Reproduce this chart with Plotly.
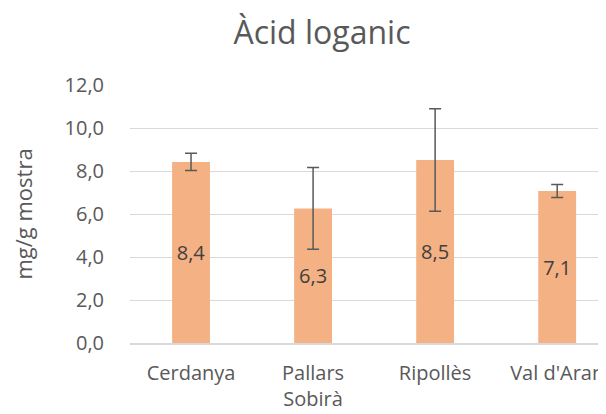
import plotly.graph_objects as go

# Data
regions = ["Cerdanya", "Pallars<br>Sobirà", "Ripollès", "Val d'Aran"]
means = [8.42, 6.26, 8.51, 7.07]
errors = [0.40, 1.90, 2.38, 0.30]

BAR_COLOR = "#F4B183"
TEXT_COLOR = "#595959"
GRID_COLOR = "#D9D9D9"
FONT = "Open Sans, Noto Sans, sans-serif"

# the page body adds an 8px offset, so the figure is 8px smaller
fig = go.Figure()

fig.add_trace(go.Bar(
    x=regions,
    y=means,
    marker=dict(color=BAR_COLOR, line=dict(width=0)),
    error_y=dict(type="data", array=errors, visible=True,
                 color="#595959", thickness=1.5, width=6),
    texttemplate="%{y:.1f}",
    textposition="inside",
    insidetextanchor="middle",
    textangle=0,
    textfont=dict(family=FONT, size=20, color="#404040"),
    hoverinfo="skip",
))

fig.update_layout(
    width=598,
    height=406,
    separators=",.",
    paper_bgcolor="white",
    plot_bgcolor="white",
    showlegend=False,
    bargap=0.69,
    margin=dict(t=77, r=0, b=71, l=122),
    title=dict(text="Àcid loganic", x=0.525, xanchor="center", y=0.94, yanchor="middle",
               font=dict(family=FONT, size=32, color=TEXT_COLOR)),
    font=dict(family=FONT, color=TEXT_COLOR),
    xaxis=dict(
        range=[-0.5, 3.4],
        showline=True, linecolor=GRID_COLOR, linewidth=1.5,
        showgrid=False,
        ticks="outside", ticklen=11, tickcolor="rgba(0,0,0,0)",
        tickfont=dict(family=FONT, size=20, color=TEXT_COLOR),
        automargin=False,
    ),
    yaxis=dict(
        range=[0, 12],
        dtick=2,
        tickformat=".1f",
        showgrid=True, gridcolor=GRID_COLOR, gridwidth=1.2,
        zeroline=False,
        ticks="outside", ticklen=21, tickcolor="rgba(0,0,0,0)",
        tickfont=dict(family=FONT, size=20, color=TEXT_COLOR),
        title=dict(text="mg/g mostra", standoff=26,
                   font=dict(family=FONT, size=22, color=TEXT_COLOR)),
        automargin=False,
    ),
)

fig.write_html("out.html")
